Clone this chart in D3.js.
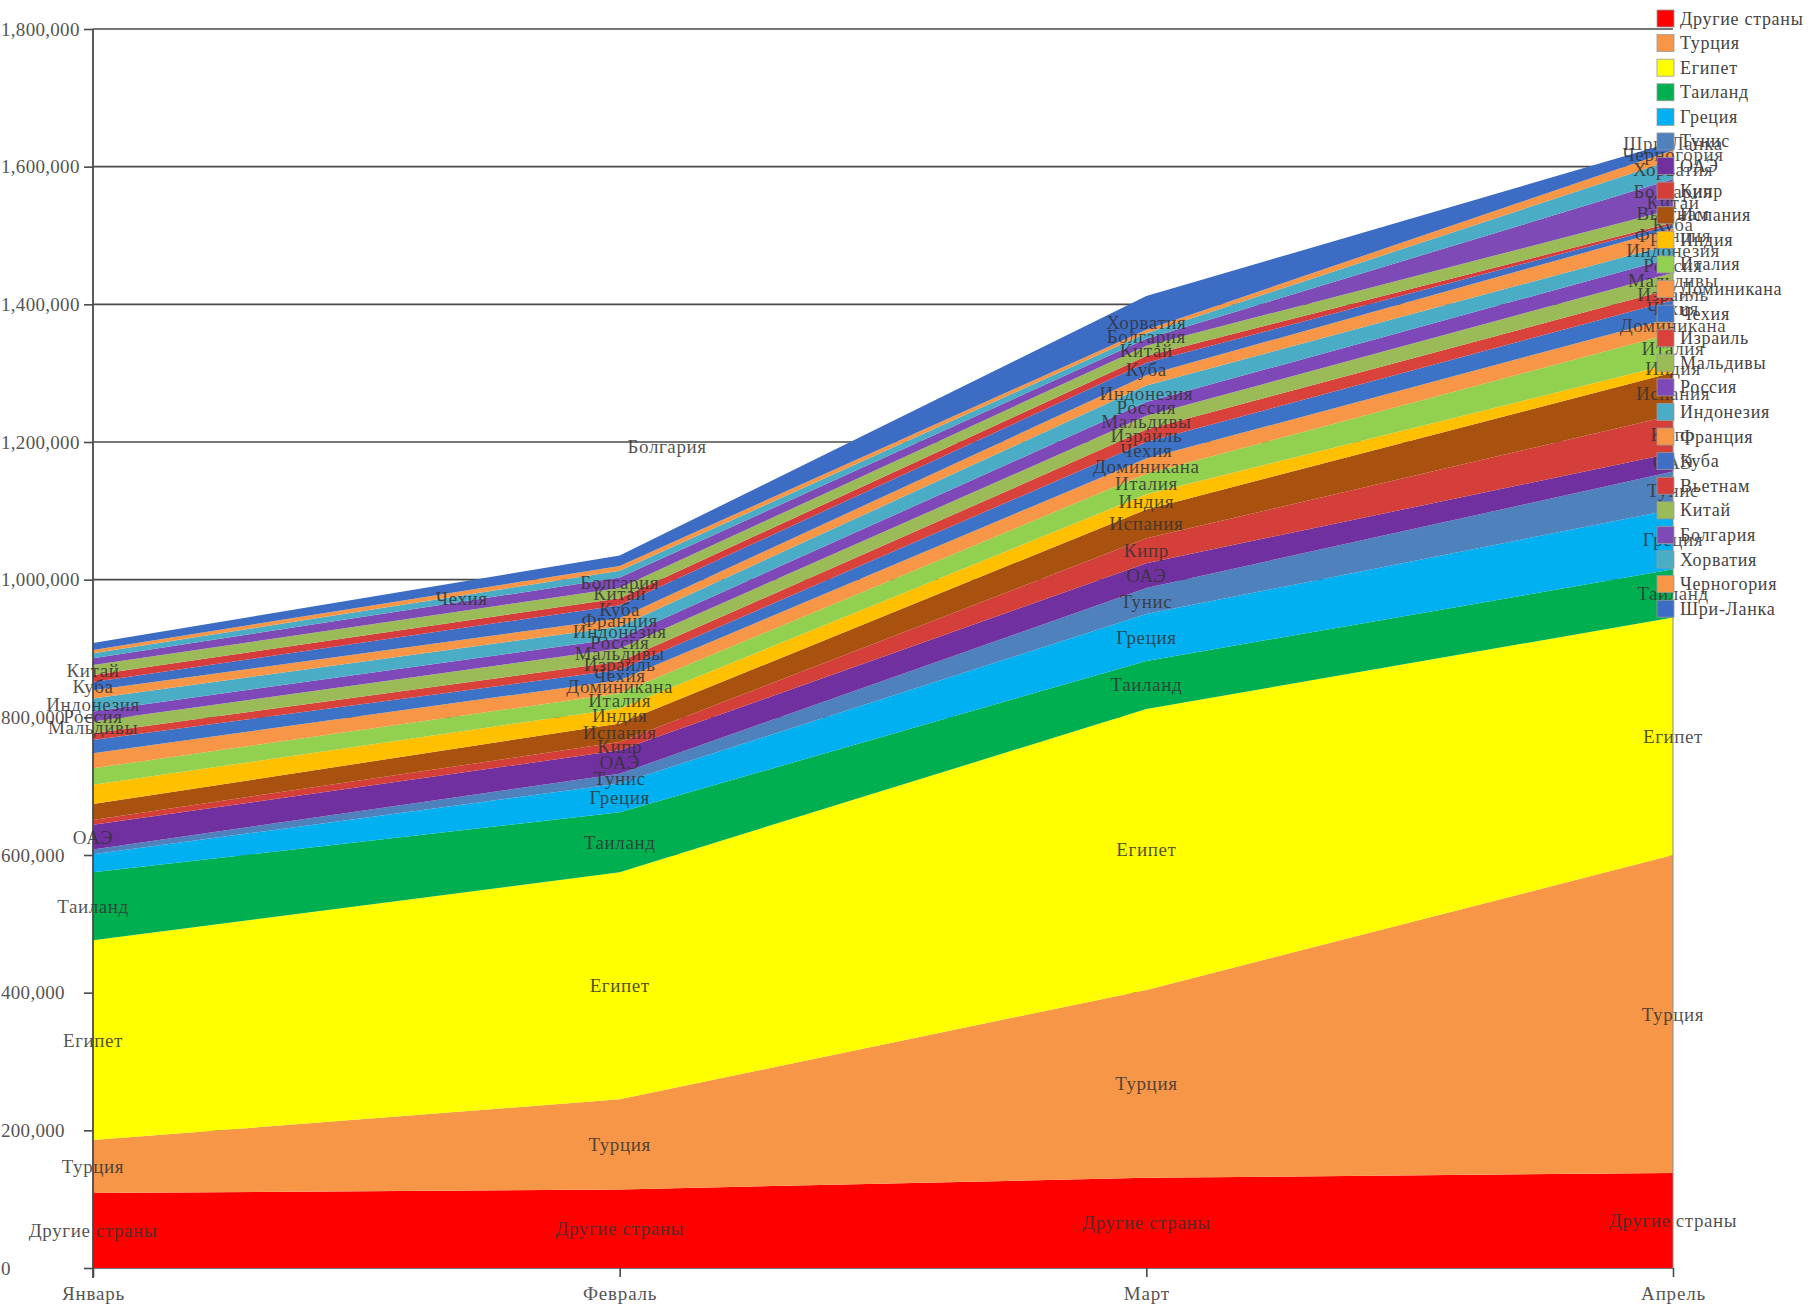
<!DOCTYPE html>
<html><head><meta charset="utf-8">
<script src="https://cdn.jsdelivr.net/npm/d3@7"></script>
<style>
html,body{margin:0;padding:0;background:#fff;overflow:hidden}
text{font-family:"Liberation Serif","DejaVu Serif",serif}
</style></head>
<body>
<svg id="chart" width="1818" height="1312"></svg>
<script>
const months = ["Январь","Февраль","Март","Апрель"];
const seriesNames = ["Другие страны","Турция","Египет","Таиланд","Греция","Тунис","ОАЭ","Кипр","Испания","Индия","Италия","Доминикана","Чехия","Израиль","Мальдивы","Россия","Индонезия","Франция","Куба","Вьетнам","Китай","Болгария","Хорватия","Черногория","Шри-Ланка"];
const seriesColors = ["#FF0000","#F79646","#FFFF00","#00B050","#00B0F0","#4F81BD","#7030A0","#D43F3A","#A9510E","#FFC000","#92D050","#F79646","#3D73C6","#D9413B","#9BBB59","#7F48B8","#4BACC6","#F79646","#3F6FC4","#D63C3C","#9BBB59","#7E4AB5","#4BACC6","#F79646","#3C6CC4"];

const other      = [109000, 114000, 131000, 138000];
const turkey     = [77000, 131000, 273000, 462000];
const egypt      = [290000, 330000, 408000, 345000];
const thailand   = [99000, 87000, 70000, 70000];
const greece     = [26000, 42000, 68000, 87000];
const tunisia    = [7000, 14000, 38000, 55000];
const uae        = [36000, 34000, 36000, 27000];
const cyprus     = [7000, 12000, 36000, 55000];
const spain      = [23000, 27000, 42000, 62000];
const india      = [28000, 22000, 22000, 13000];
const italy      = [24000, 22000, 30000, 44000];
const dominicana = [22000, 19000, 22000, 23000];
const czech      = [19000, 15000, 24000, 25000];
const israel     = [10000, 12000, 18000, 17000];
const maldives   = [17000, 19000, 20000, 23000];
const russia     = [14500, 15000, 20000, 22000];
const indonesia  = [19000, 17000, 24000, 20000];
const france     = [12000, 12000, 15000, 23000];
const cuba       = [12000, 19000, 18000, 5000];
const vietnam    = [10000, 10000, 10000, 3000];
const china      = [14500, 15000, 15000, 19000];
const bulgaria   = [10000, 15000, 10000, 44000];
const croatia    = [7000, 10000, 8000, 28000];
const montenegro = [5000, 7000, 5000, 14000];
const srilanka   = [10000, 15000, 49000, 12000];

const seriesValues = [other,turkey,egypt,thailand,greece,tunisia,uae,cyprus,spain,india,italy,dominicana,czech,israel,maldives,russia,indonesia,france,cuba,vietnam,china,bulgaria,croatia,montenegro,srilanka];

const yTicks = [0,200000,400000,600000,800000,1000000,1200000,1400000,1600000,1800000];

// which point labels are visible at each month
const labelsJan = ["Другие страны","Турция","Египет","Таиланд","ОАЭ","Мальдивы","Россия","Индонезия","Куба","Китай"];
const labelsFeb = seriesNames.filter(n => !["Черногория","Шри-Ланка","Хорватия","Вьетнам"].includes(n));
const labelsMar = seriesNames.filter(n => !["Франция","Вьетнам","Черногория","Шри-Ланка"].includes(n));
const labelsApr = seriesNames.slice();
const visibleLabels = [labelsJan, labelsFeb, labelsMar, labelsApr];
const labelGap = [0, 11, 14, 11];
// stray labels (name, fractional month index, value)
const strayNames = ["Чехия","Болгария"];
const strayPos = [0.70, 1.09];
const strayVals = [972000, 1194000];

const svg = d3.select("#chart");
const L = 93, R = 1673, T = 29, B = 1268;

const table = months.map((m,i) => {
  const row = {month:m, idx:i};
  seriesNames.forEach((n,k) => row[n] = seriesValues[k][i]);
  return row;
});
const stack = d3.stack().keys(seriesNames).order(d3.stackOrderNone).offset(d3.stackOffsetNone);
const layers = stack(table);

const x = d3.scaleLinear().domain([0, months.length-1]).range([L, R]);
const y = d3.scaleLinear().domain([0, 1800000]).range([B, T]);
const color = d3.scaleOrdinal().domain(seriesNames).range(seriesColors);

// gridlines (behind)
svg.append("g").selectAll("line").data(yTicks).join("line")
  .attr("x1", L).attr("x2", R)
  .attr("y1", d => y(d)).attr("y2", d => y(d))
  .attr("stroke", "#4a4a4a").attr("stroke-width", 1.6);

// areas
const area = d3.area().x(d => x(d.data.idx)).y0(d => y(d[0])).y1(d => y(d[1])).curve(d3.curveLinear);
svg.append("g").selectAll("path").data(layers).join("path")
  .attr("d", area).attr("fill", d => color(d.key)).attr("stroke", "none");

// right edge line
svg.append("line").attr("x1", R).attr("x2", R).attr("y1", y(0)).attr("y2", y(d3.sum(seriesValues, s => s[3])))
  .attr("stroke", "#8a8a8a").attr("stroke-width", 1);

// y axis
const yAxis = d3.axisLeft(y).tickValues(yTicks).tickFormat(d3.format(",")).tickSize(9).tickPadding(0);
const ya = svg.append("g").attr("transform", `translate(${L},0)`).call(yAxis);
ya.select(".domain").attr("stroke", "#4a4a4a").attr("stroke-width", 1.8).attr("d", `M0,${y(0)+10}V${T}`);
ya.selectAll(".tick line").attr("stroke", "#4a4a4a").attr("stroke-width", 1.6);
ya.selectAll(".tick text").attr("x", -L+1).attr("text-anchor", "start")
  .attr("fill", "#555").style("font-size", "19px").style("letter-spacing", "0.3px")
  .style("font-family", '"Liberation Serif",serif');

// x axis
const xAxis = d3.axisBottom(x).tickValues(d3.range(months.length)).tickFormat(i => months[i]).tickSize(9).tickPadding(10);
const xa = svg.append("g").attr("transform", `translate(0,${B})`).call(xAxis);
xa.select(".domain").remove();
xa.selectAll(".tick line").attr("stroke", "#4a4a4a").attr("stroke-width", 1.6);
xa.selectAll(".tick text").attr("fill", "#555").style("font-size", "19px").style("letter-spacing", "0.8px")
  .style("font-family", '"Liberation Serif",serif');

// point labels (with simple upward de-overlap per month)
const lab = svg.append("g");
months.forEach((m, i) => {
  const items = layers.filter(l => visibleLabels[i].includes(l.key))
    .map(l => ({name: l.key, y: y((l[i][0] + l[i][1]) / 2)}))
    .sort((a, b) => b.y - a.y);
  for (let k = 1; k < items.length; k++) {
    if (labelGap[i] > 0) items[k].y = Math.min(items[k].y, items[k-1].y - labelGap[i]);
  }
  items.forEach(it => {
    lab.append("text")
      .attr("x", x(i)).attr("y", it.y)
      .attr("text-anchor", "middle").attr("dominant-baseline", "central")
      .attr("fill", "#333").attr("fill-opacity", 0.85)
      .style("font-size", "19px").style("letter-spacing", "0.6px")
      .text(it.name);
  });
});
strayNames.forEach((n, k) => {
  lab.append("text").attr("x", x(strayPos[k])).attr("y", y(strayVals[k]))
    .attr("text-anchor", "middle").attr("dominant-baseline", "central")
    .attr("fill", "#333").attr("fill-opacity", 0.85)
    .style("font-size", "19px").style("letter-spacing", "0.6px").text(n);
});

// legend
const lg = svg.append("g");
const ly = d3.scalePoint().domain(seriesNames).range([18.5, 608.7]);
seriesNames.forEach(n => {
  lg.append("rect").attr("x", 1657).attr("y", ly(n)-8.5).attr("width", 17).attr("height", 17)
    .attr("fill", color(n)).attr("stroke", "#9a9a9a").attr("stroke-width", 0.8);
  lg.append("text").attr("x", 1680).attr("y", ly(n)).attr("dominant-baseline", "central")
    .attr("fill", "#444").style("font-size", "18px").style("letter-spacing", "0.7px").text(n);
});
</script>
</body></html>
